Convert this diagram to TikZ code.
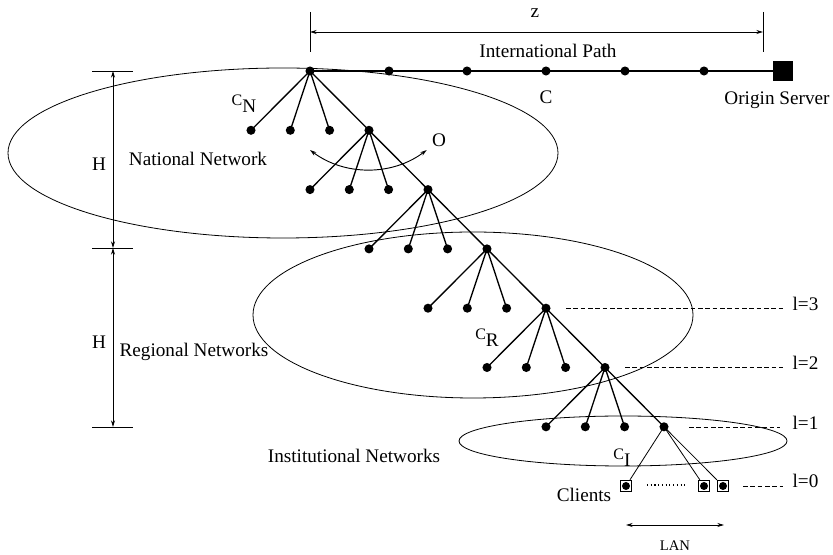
\documentclass[tikz,border=0pt]{standalone}
\usepackage{fontspec}
\setmainfont{Liberation Serif}
\usetikzlibrary{arrows.meta}
\begin{document}
\begin{tikzpicture}[x=0.75pt,y=-0.75pt,
  dot/.style={circle,fill=black,inner sep=0pt,minimum size=6.8pt},
  client/.style={draw,line width=0.7pt,inner sep=0pt,minimum size=8.5pt,
    path picture={\fill (path picture bounding box.center) circle (3pt);}},
  server/.style={fill=black,inner sep=0pt,minimum size=15pt},
  branch/.style={line width=1pt},
  thinbranch/.style={line width=0.6pt},
  region/.style={line width=0.6pt},
  level/.style={dash pattern=on 3.5pt off 2pt,line width=0.6pt},
  dim/.style={line width=0.7pt},
  tip/.style={{Stealth[length=5pt,width=3pt]}-{Stealth[length=5pt,width=3pt]}},
  lbl/.style={font=\fontsize{14.4}{17}\selectfont,inner sep=1pt}
]
\useasboundingbox (0,0) rectangle (833,555);

% regions
\draw[region] (283,153) ellipse [x radius=275, y radius=85];
\draw[region] (473,315) ellipse [x radius=220, y radius=83];
\draw[region] (623,441) ellipse [x radius=164, y radius=25];

% tree spine
\foreach \k in {0,...,6}{
  \node[dot] (r\k) at ({310+59*\k},{71+59.3*\k}) {};
}
\foreach \k [evaluate=\k as \kn using int(\k+1)] in {0,...,5}{
  \foreach \j in {0,1,2}{
    \node[dot] (l\k\j) at ({310+59*\k-59+39.3*\j},{71+59.3*\k+59.3}) {};
    \draw[branch] (r\k.center) -- (l\k\j.center);
  }
  \draw[branch] (r\k.center) -- (r\kn.center);
}

% clients
\node[client] (c1) at (626,486) {};
\node[client] (c2) at (704,486) {};
\node[client] (c3) at (723,486) {};
\draw[thinbranch] (r6.center) -- (c1);
\draw[thinbranch] (r6.center) -- (c2);
\draw[thinbranch] (r6.center) -- (c3);
\coordinate (cd1) at (647,485);
\coordinate (cd2) at (687,485);
\draw[dotted,line width=0.8pt] (cd1) -- (cd2);

% international path
\node[server] (srv) at (783,71) {};
\foreach \i/\x in {1/389,2/467,3/546,4/625,5/704}{
  \node[dot] (p\i) at (\x,71) {};
}
\draw[branch] (r0.center) -- (srv);

% z dimension
\coordinate (zt1) at (310,12); \coordinate (zb1) at (310,52);
\coordinate (zt2) at (763,12); \coordinate (zb2) at (763,52);
\draw[dim] (zt1) -- (zb1);
\draw[dim] (zt2) -- (zb2);
\coordinate (za) at (310,32); \coordinate (zb) at (763,32);
\draw[dim,tip] (za) -- (zb);

% H dimensions
\coordinate (h1l) at (92,71);  \coordinate (h1r) at (133,71);
\coordinate (h2l) at (92,248); \coordinate (h2r) at (133,248);
\coordinate (h3l) at (92,427); \coordinate (h3r) at (133,427);
\draw[dim] (h1l) -- (h1r);
\draw[dim] (h2l) -- (h2r);
\draw[dim] (h3l) -- (h3r);
\coordinate (ha) at (113,71); \coordinate (hb) at (113,248); \coordinate (hc) at (113,427);
\draw[dim,tip] (ha) -- (hb);
\draw[dim,tip] (hb) -- (hc);

% O arc
\coordinate (oa) at (310,150);
\draw[dim,tip] (oa) arc[start angle=127, end angle=53, radius=97];

% level lines
\coordinate (d3a) at (566,308); \coordinate (d3b) at (783,308);
\coordinate (d2a) at (625,367); \coordinate (d2b) at (783,367);
\coordinate (d1a) at (689,427); \coordinate (d1b) at (780,427);
\coordinate (d0a) at (743,486); \coordinate (d0b) at (783,486);
\draw[level] (d3a) -- (d3b);
\draw[level] (d2a) -- (d2b);
\draw[level] (d1a) -- (d1b);
\draw[level] (d0a) -- (d0b);
\node[lbl,anchor=west] (t3) at (791,304) {l=3};
\node[lbl,anchor=west] (t2) at (791,363) {l=2};
\node[lbl,anchor=west] (t1) at (791,423) {l=1};
\node[lbl,anchor=west] (t0) at (791,481) {l=0};

% LAN
\coordinate (la) at (626,525); \coordinate (lb) at (724,525);
\draw[dim,tip] (la) -- (lb);
\node[font=\fontsize{11}{13}\selectfont] (lan) at (675,546) {LAN};

% labels
\node[lbl] (zl) at (535,13) {z};
\node[lbl] (ip) at (548,51) {International Path};
\node[lbl] (cl) at (546,97) {C};
\node[lbl] (os) at (777,100) {Origin Server};
\node[lbl] (nn) at (198,159) {National Network};
\node[lbl] (rn) at (194,352) {Regional Networks};
\node[lbl] (in) at (354,456) {Institutional Networks};
\node[lbl] (H1) at (99,164) {H};
\node[lbl] (H2) at (99,342) {H};
\node[lbl] (ol) at (439,140) {O};
\node[lbl] (cn) at (244,104) {{\fontsize{12}{14}\selectfont C}\raisebox{-5pt}{N}};
\node[lbl] (cr) at (487,338) {{\fontsize{12}{14}\selectfont C}\raisebox{-5pt}{R}};
\node[lbl] (ci) at (622,458) {{\fontsize{12}{14}\selectfont C}\raisebox{-5pt}{I}};
\node[lbl] (cls) at (584,495) {Clients};
\end{tikzpicture}
\end{document}
